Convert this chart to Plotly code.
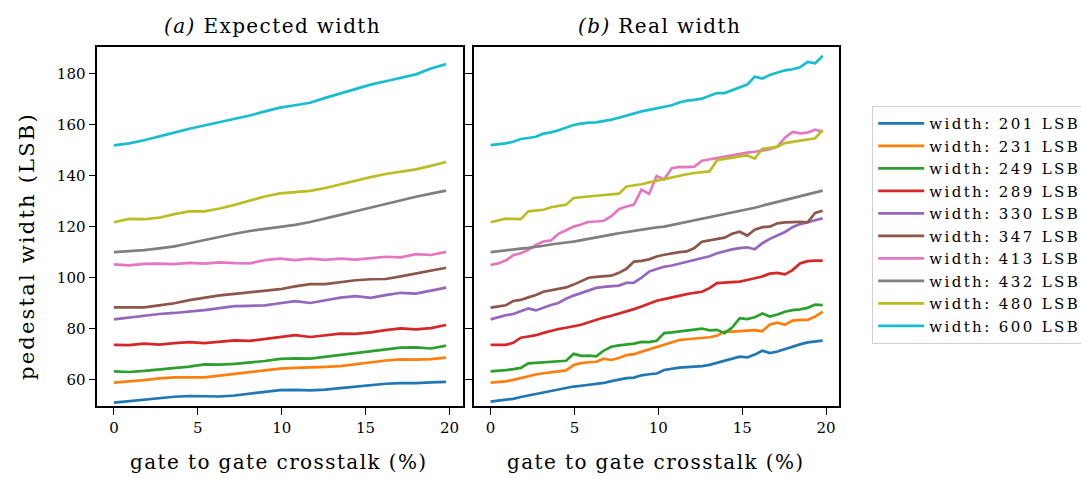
import plotly.graph_objects as go

# Crosstalk grids (%) for the two panels
crosstalk_expected = [0.0, 0.9, 1.8, 2.7, 3.6, 4.5, 5.4, 6.3, 7.2, 8.1, 9.0, 9.9,
                      10.8, 11.7, 12.6, 13.5, 14.4, 15.3, 16.2, 17.1, 18.0, 18.9, 19.8]
crosstalk_real = [0.0, 0.45, 0.9, 1.35, 1.8, 2.25, 2.7, 3.15, 3.6, 4.05, 4.5, 4.95,
                  5.4, 5.85, 6.3, 6.75, 7.2, 7.65, 8.1, 8.55, 9.0, 9.45, 9.9, 10.35,
                  10.8, 11.25, 11.7, 12.15, 12.6, 13.05, 13.5, 13.95, 14.4, 14.85,
                  15.3, 15.75, 16.2, 16.65, 17.1, 17.55, 18.0, 18.45, 18.9, 19.35, 19.8]

widths = [201, 231, 249, 289, 330, 347, 413, 432, 480, 600]

# Expected pedestal width (LSB)
exp_201 = [51.1, 51.7, 52.3, 52.8, 53.4, 53.7, 53.7, 53.5, 53.9, 54.7, 55.3, 56.0,
           56.1, 55.9, 56.2, 56.8, 57.4, 57.9, 58.5, 58.7, 58.7, 59.0, 59.2]
exp_231 = [58.9, 59.3, 59.9, 60.6, 61.0, 61.0, 61.0, 61.7, 62.3, 62.9, 63.6, 64.4,
           64.7, 64.8, 65.1, 65.4, 66.2, 67.0, 67.6, 68.0, 67.9, 68.1, 68.7]
exp_249 = [63.3, 63.1, 63.5, 64.0, 64.6, 65.2, 66.1, 66.0, 66.3, 66.8, 67.4, 68.2,
           68.4, 68.3, 69.0, 69.8, 70.6, 71.3, 72.0, 72.6, 72.7, 72.3, 73.4]
exp_289 = [73.7, 73.6, 74.2, 73.8, 74.4, 74.8, 74.4, 75.1, 75.5, 75.3, 76.0, 76.8,
           77.5, 76.8, 77.5, 78.1, 78.0, 78.6, 79.5, 80.2, 79.8, 80.3, 81.5]
exp_330 = [83.7, 84.4, 85.1, 85.8, 86.2, 86.7, 87.3, 88.1, 88.9, 89.0, 89.2, 90.0,
           90.8, 90.1, 91.2, 92.2, 92.8, 92.1, 93.2, 94.1, 93.8, 94.9, 96.1]
exp_347 = [88.4, 88.4, 88.4, 89.2, 90.0, 91.2, 92.3, 93.1, 93.7, 94.3, 94.8, 95.5,
           96.6, 97.5, 97.5, 98.3, 99.0, 99.4, 99.5, 100.5, 101.7, 102.8, 103.9]
exp_413 = [105.2, 104.8, 105.4, 105.5, 105.3, 105.8, 105.5, 106.0, 105.7, 105.6, 106.9, 107.5,
           106.9, 107.5, 107.0, 107.5, 107.1, 107.6, 108.2, 108.0, 109.2, 108.9, 110.1]
exp_432 = [110.0, 110.3, 110.8, 111.5, 112.3, 113.5, 114.8, 116.0, 117.2, 118.3, 119.1, 119.9,
           120.7, 121.8, 123.1, 124.6, 126.0, 127.5, 128.9, 130.4, 131.7, 132.9, 134.1]
exp_480 = [121.7, 123.0, 122.9, 123.5, 124.9, 126.0, 126.0, 127.1, 128.5, 130.1, 131.8, 133.0,
           133.6, 134.0, 135.1, 136.6, 138.1, 139.4, 140.6, 141.4, 142.4, 143.8, 145.3]
exp_600 = [151.8, 152.6, 153.8, 155.2, 156.8, 158.3, 159.6, 160.6, 161.9, 163.5, 165.1, 166.6,
           167.5, 168.5, 170.4, 172.1, 173.9, 175.6, 176.9, 178.1, 179.6, 181.9, 183.6]

# Measured (real) pedestal width (LSB)
real_201 = [51.5, 51.8, 52.1, 52.6, 53.3, 53.9, 54.6, 55.3, 55.9, 56.4, 56.9, 57.4,
            57.7, 58.1, 58.4, 58.8, 59.5, 60.2, 60.7, 60.9, 61.8, 62.2, 62.5, 63.9,
            64.4, 64.8, 65.0, 65.2, 65.4, 65.9, 66.7, 67.5, 68.4, 69.1, 68.8, 69.9,
            71.4, 70.5, 71.1, 72.1, 73.1, 73.9, 74.7, 75.0, 75.4]
real_231 = [58.9, 59.1, 59.4, 60.0, 60.8, 61.5, 62.1, 62.6, 63.0, 63.4, 63.7, 65.8,
            66.6, 66.9, 67.1, 68.3, 67.8, 68.6, 69.7, 70.1, 71.0, 72.1, 73.0, 73.7,
            74.9, 75.6, 75.9, 76.2, 76.4, 76.7, 77.3, 78.9, 78.9, 79.0, 79.2, 79.5,
            79.0, 81.7, 82.4, 81.6, 83.2, 83.5, 83.5, 84.8, 86.7]
real_249 = [63.3, 63.5, 63.8, 64.2, 64.7, 66.5, 66.7, 66.8, 67.0, 67.2, 67.5, 70.2,
            69.4, 69.5, 69.2, 71.5, 73.0, 73.5, 73.8, 74.2, 74.9, 74.8, 75.3, 78.3,
            78.6, 78.9, 79.2, 79.7, 80.1, 79.4, 79.6, 78.3, 80.5, 84.2, 83.8, 84.5,
            86.0, 84.8, 85.6, 86.7, 87.3, 87.6, 88.2, 89.5, 89.3]
real_289 = [73.7, 73.7, 73.7, 74.5, 76.5, 77.0, 77.5, 78.4, 79.3, 79.9, 80.4, 80.9,
            81.6, 82.6, 83.6, 84.4, 85.1, 85.9, 86.8, 87.7, 88.7, 89.8, 91.0, 91.6,
            92.3, 93.1, 93.6, 94.1, 94.5, 95.9, 97.9, 98.1, 98.3, 98.5, 99.1, 99.8,
            100.5, 101.6, 101.9, 101.3, 103.0, 105.6, 106.5, 106.7, 106.7]
real_330 = [83.7, 84.5, 85.3, 85.8, 87.0, 88.0, 87.2, 88.4, 89.3, 90.1, 91.8, 93.0,
            94.0, 95.0, 96.0, 96.4, 96.6, 96.9, 98.0, 98.1, 100.0, 102.4, 103.4, 104.3,
            104.8, 105.5, 106.2, 106.9, 107.5, 108.4, 109.6, 110.5, 111.1, 111.6, 111.9, 111.1,
            113.5, 115.2, 116.5, 117.9, 119.8, 121.0, 121.7, 122.4, 123.3]
real_347 = [88.3, 88.8, 89.2, 90.9, 91.3, 92.3, 93.2, 94.5, 95.0, 95.5, 96.2, 97.3,
            98.6, 100.0, 100.3, 100.5, 100.8, 101.9, 103.5, 106.3, 106.6, 107.2, 108.3, 109.0,
            109.6, 110.0, 110.3, 111.6, 114.1, 114.6, 115.1, 115.7, 117.2, 118.0, 116.5, 118.8,
            119.8, 120.0, 121.3, 121.7, 121.8, 121.9, 121.7, 125.4, 126.2]
real_413 = [105.0, 105.6, 106.7, 108.8, 109.6, 110.9, 112.8, 114.2, 114.6, 117.2, 118.6, 120.0,
            120.8, 121.9, 122.0, 122.3, 124.1, 126.8, 127.9, 128.6, 134.5, 132.8, 139.8, 138.5,
            142.9, 143.4, 143.3, 143.5, 145.8, 146.3, 146.8, 147.4, 147.9, 148.6, 149.0, 149.3,
            149.8, 150.3, 151.3, 154.8, 157.1, 156.5, 156.8, 158.0, 157.1]
real_432 = [110.0, 110.4, 110.8, 111.1, 111.4, 111.7, 112.0, 112.5, 113.0, 113.5, 113.8, 114.1,
            114.7, 115.3, 115.9, 116.4, 116.9, 117.4, 117.9, 118.4, 118.8, 119.3, 119.7, 120.0,
            120.6, 121.2, 121.8, 122.4, 123.0, 123.6, 124.2, 124.8, 125.5, 126.2, 126.8, 127.4,
            128.2, 128.9, 129.7, 130.5, 131.2, 131.9, 132.6, 133.4, 134.1]
real_480 = [121.7, 122.4, 123.1, 123.0, 122.9, 126.0, 126.3, 126.6, 127.6, 128.1, 128.6, 131.2,
            131.4, 131.8, 132.1, 132.4, 132.6, 132.9, 135.7, 136.1, 136.6, 137.3, 138.0, 138.6,
            139.4, 139.9, 140.5, 141.0, 141.3, 141.6, 146.0, 146.4, 147.0, 147.5, 147.9, 146.6,
            150.5, 150.8, 151.3, 152.7, 153.2, 153.6, 154.3, 154.6, 157.8]
real_600 = [151.9, 152.2, 152.6, 153.2, 154.3, 154.7, 155.2, 156.4, 156.9, 157.7, 158.7, 159.8,
            160.3, 160.7, 160.8, 161.3, 161.9, 162.6, 163.5, 164.3, 165.1, 165.7, 166.2, 166.9,
            167.5, 168.6, 169.3, 169.6, 170.1, 171.2, 172.3, 172.3, 173.4, 174.5, 175.6, 178.7,
            178.0, 179.4, 180.3, 181.2, 181.6, 182.4, 184.5, 183.9, 186.9]

expected = [exp_201, exp_231, exp_249, exp_289, exp_330, exp_347, exp_413, exp_432, exp_480, exp_600]
real = [real_201, real_231, real_249, real_289, real_330, real_347, real_413, real_432, real_480, real_600]

colors = ["#1f77b4", "#ff7f0e", "#2ca02c", "#d62728", "#9467bd",
          "#8c564b", "#e377c2", "#7f7f7f", "#bcbd22", "#17becf"]

y_ticks = [60, 80, 100, 120, 140, 160, 180]
x_ticks = [0, 5, 10, 15, 20]

W, H = 1081, 479
FONT = "DejaVu Serif"


def px(x):
    return x / W


def py(y):
    return 1 - y / H


fig = go.Figure()

for w, col, ys in zip(widths, colors, expected):
    fig.add_trace(go.Scatter(
        x=crosstalk_expected, y=ys, mode="lines",
        line=dict(color=col, width=2.7),
        name=f'<span style="letter-spacing:2.4px">width: {w} LSB</span>',
        xaxis="x", yaxis="y", showlegend=True,
    ))

for w, col, ys in zip(widths, colors, real):
    fig.add_trace(go.Scatter(
        x=crosstalk_real, y=ys, mode="lines",
        line=dict(color=col, width=2.7),
        name=f"width: {w} LSB",
        xaxis="x2", yaxis="y2", showlegend=False,
    ))

axis_common = dict(
    showgrid=False, zeroline=False, showline=True, linecolor="black", linewidth=1.6,
    ticks="outside", ticklen=7, tickwidth=1.4, tickcolor="black",
    tickfont=dict(family=FONT, size=15, color="black"),
)

y_dom = [py(405.7), py(47.3)]
y_range = [49.9, 190.2]
x_range = [-0.99, 20.79]

fig.update_layout(
    width=W, height=H,
    margin=dict(l=0, r=0, t=0, b=0, autoexpand=False),
    paper_bgcolor="white", plot_bgcolor="white",
    font=dict(family=FONT, color="black"),
    xaxis=dict(domain=[px(97.3), px(462.7)], range=x_range, tickvals=x_ticks,
               mirror=True, anchor="y", **axis_common),
    yaxis=dict(domain=y_dom, range=y_range, tickvals=y_ticks,
               mirror="ticks", anchor="x", **axis_common),
    xaxis2=dict(domain=[px(474), px(839.3)], range=x_range, tickvals=x_ticks,
                mirror=True, anchor="y2", **axis_common),
    yaxis2=dict(domain=y_dom, range=y_range, tickvals=y_ticks, showticklabels=False,
                mirror=True, anchor="x2", matches="y", **axis_common),
    legend=dict(
        x=px(872), y=py(106), xanchor="left", yanchor="top",
        bgcolor="white", bordercolor="#d0d0d0", borderwidth=1.2,
        font=dict(family=FONT, size=15, color="black"),
        tracegroupgap=0, itemwidth=46,
    ),
)

annotations = [
    dict(text="<i>(a)</i> Expected width", x=px(272), y=py(26)),
    dict(text="<i>(b)</i> Real width", x=px(659), y=py(26)),
    dict(text="gate to gate crosstalk (%)", x=px(279), y=py(462)),
    dict(text="gate to gate crosstalk (%)", x=px(656), y=py(462)),
]
for a in annotations:
    fig.add_annotation(
        text=f'<span style="letter-spacing:1.4px">{a["text"]}</span>',
        x=a["x"], y=a["y"], xref="paper", yref="paper",
        xanchor="center", yanchor="middle", showarrow=False,
        font=dict(family=FONT, size=20, color="black"),
    )

fig.add_annotation(
    text='<span style="letter-spacing:2.2px">pedestal width (LSB)</span>',
    x=px(27), y=py(246), xref="paper", yref="paper",
    xanchor="center", yanchor="middle", showarrow=False, textangle=-90,
    font=dict(family=FONT, size=21, color="black"),
)

fig.write_html("out.html")
